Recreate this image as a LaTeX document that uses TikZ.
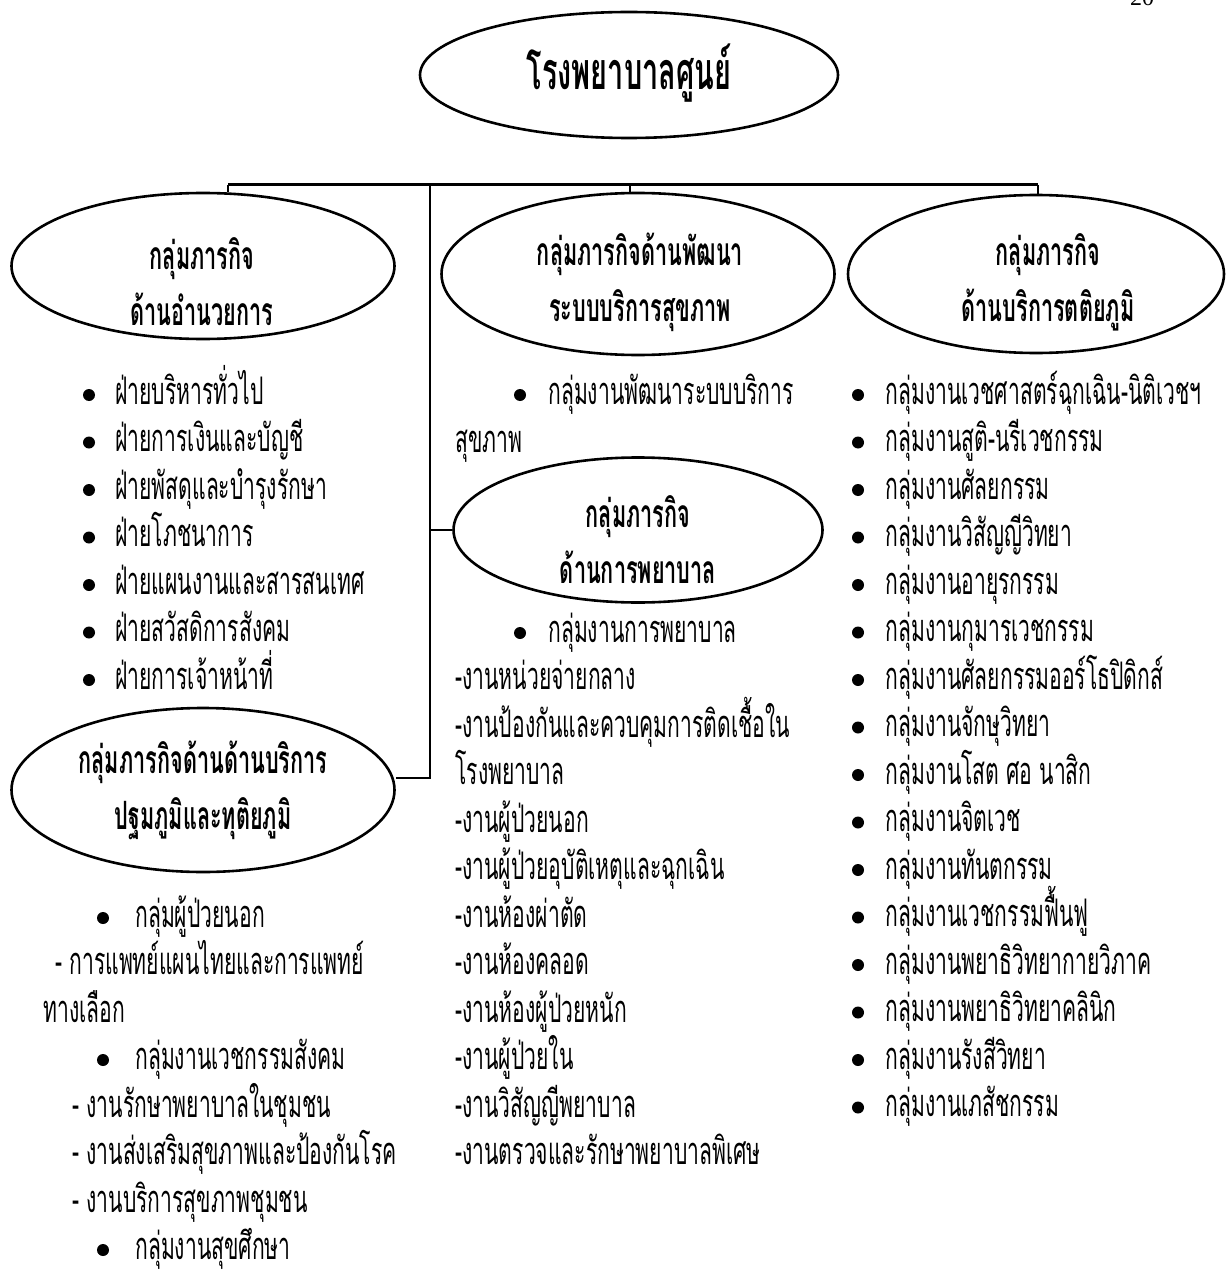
\documentclass[tikz,border=0pt]{standalone}
\usepackage{fontspec}
\setmainfont{Liberation Serif}
\newfontfamily\thai[Script=Thai,FakeStretch=0.555]{Loma}
\usetikzlibrary{shapes.geometric}

% body text and title sizes
\newcommand{\itemsize}{\fontsize{19pt}{24pt}\selectfont}
\newcommand{\headsize}{\fontsize{19.5pt}{24pt}\selectfont\bfseries}
\newcommand{\topsize}{\fontsize{26pt}{30pt}\selectfont\bfseries}

\tikzset{
  unit ellipse/.style={ellipse, draw, line width=1.3pt, inner sep=0pt},
  head/.style={font=\thai\headsize, align=center, inner sep=0pt},
  entry/.style={font=\thai\itemsize, anchor=base west, inner sep=0pt},
  link/.style={line width=1pt},
  bar/.style={line width=1.5pt},
  dot/.style={fill=black}
}

\begin{document}
\begin{tikzpicture}[x=0.5pt,y=-0.5pt]
\useasboundingbox (0,0) rectangle (1225,1273);

% page number at the top right corner
\node[anchor=base, font=\fontsize{12pt}{14pt}\selectfont, inner sep=0pt] (pg) at (1142,6) {20};

% top unit (sizes in pt: half of the pixel grid)
\node[unit ellipse, minimum width=209pt, minimum height=63pt] (e0) at (629,75) {};
\node[font=\thai\topsize, inner sep=0pt] (e0t) at (629,73) {โรงพยาบาลศูนย์};

% mission groups
\node[unit ellipse, minimum width=191.5pt, minimum height=73pt] (e1) at (203,266) {};
\node[head] (e1t) at (202,282) {กลุ่มภารกิจ\\[4pt]ด้านอำนวยการ};

\node[unit ellipse, minimum width=196.5pt, minimum height=81pt] (e2) at (638,274) {};
\node[head] (e2t) at (640,282) {กลุ่มภารกิจด้านพัฒนา\\[4pt]ระบบบริการสุขภาพ};

\node[unit ellipse, minimum width=188pt, minimum height=79pt] (e3) at (1036,274) {};
\node[head] (e3t) at (1048,282) {กลุ่มภารกิจ\\[4pt]ด้านบริการตติยภูมิ};

\node[unit ellipse, minimum width=184.5pt, minimum height=72.5pt] (e5) at (638,530) {};
\node[head] (e5t) at (638,540) {กลุ่มภารกิจ\\[4pt]ด้านการพยาบาล};

\node[unit ellipse, minimum width=191.5pt, minimum height=82pt] (e4) at (203,790) {};
\node[head] (e4t) at (203,790) {กลุ่มภารกิจด้านด้านบริการ\\[4pt]ปฐมภูมิและทุติยภูมิ};

% connectors
\coordinate (bl) at (228,185);
\coordinate (br) at (1038,185);
\coordinate (t0) at (430,185);
\coordinate (t1) at (430,530);
\coordinate (t2) at (430,778);
\coordinate (tm) at (630,185);
\draw[bar] (bl) -- (br);
\draw[link] (bl) -- (bl |- e1.north);
\draw[link] (tm) -- (tm |- e2.north);
\draw[link] (br) -- (br |- e3.north);
\draw[link] (t0) -- (t2) -- (t2 -| e4.east);
\draw[link] (t1) -- (e5.west);

% administration list
\foreach \txt [count=\i from 0] in {ฝ่ายบริหารทั่วไป, ฝ่ายการเงินและบัญชี, ฝ่ายพัสดุและบำรุงรักษา, ฝ่ายโภชนาการ, ฝ่ายแผนงานและสารสนเทศ, ฝ่ายสวัสดิการสังคม, ฝ่ายการเจ้าหน้าที่}{
  \pgfmathsetmacro{\yy}{395+47.5*\i}
  \fill[dot] (89,\yy) circle (6);
  \node[entry] (a\i) at (115,\yy+9) {\txt};
}

% health system development list
\fill[dot] (520,395) circle (6);
\node[entry] (d0) at (548,404) {กลุ่มงานพัฒนาระบบบริการ};
\node[entry] (d1) at (455,452) {สุขภาพ};

% nursing list
\fill[dot] (520,633) circle (6);
\node[entry] (n0) at (548,642) {กลุ่มงานการพยาบาล};
\foreach \txt [count=\i from 1] in {-งานหน่วยจ่ายกลาง, -งานป้องกันและควบคุมการติดเชื้อใน, โรงพยาบาล, -งานผู้ป่วยนอก, -งานผู้ป่วยอุบัติเหตุและฉุกเฉิน, -งานห้องผ่าตัด, -งานห้องคลอด, -งานห้องผู้ป่วยหนัก, -งานผู้ป่วยใน, -งานวิสัญญีพยาบาล, -งานตรวจและรักษาพยาบาลพิเศษ}{
  \pgfmathsetmacro{\yy}{633+47.5*\i}
  \node[entry] (n\i) at (455,\yy+9) {\txt};
}

% tertiary services list
\foreach \txt [count=\i from 0] in {กลุ่มงานเวชศาสตร์ฉุกเฉิน-นิติเวชฯ, กลุ่มงานสูติ-นรีเวชกรรม, กลุ่มงานศัลยกรรม, กลุ่มงานวิสัญญีวิทยา, กลุ่มงานอายุรกรรม, กลุ่มงานกุมารเวชกรรม, กลุ่มงานศัลยกรรมออร์โธปิดิกส์, กลุ่มงานจักษุวิทยา, กลุ่มงานโสต ศอ นาสิก, กลุ่มงานจิตเวช, กลุ่มงานทันตกรรม, กลุ่มงานเวชกรรมฟื้นฟู, กลุ่มงานพยาธิวิทยากายวิภาค, กลุ่มงานพยาธิวิทยาคลินิก, กลุ่มงานรังสีวิทยา, กลุ่มงานเภสัชกรรม}{
  \pgfmathsetmacro{\yy}{395+47.5*\i}
  \fill[dot] (858,\yy) circle (6);
  \node[entry] (t\i) at (885,\yy+9) {\txt};
}

% primary and secondary services list
\fill[dot] (103,918) circle (6);
\node[entry] (p0) at (135,927) {กลุ่มผู้ป่วยนอก};
\node[entry] (p1) at (55,974) {- การแพทย์แผนไทยและการแพทย์};
\node[entry] (p2) at (43,1022) {ทางเลือก};
\fill[dot] (103,1060) circle (6);
\node[entry] (p3) at (135,1069) {กลุ่มงานเวชกรรมสังคม};
\node[entry] (p4) at (72,1117) {- งานรักษาพยาบาลในชุมชน};
\node[entry] (p5) at (72,1164) {- งานส่งเสริมสุขภาพและป้องกันโรค};
\node[entry] (p6) at (72,1212) {- งานบริการสุขภาพชุมชน};
\fill[dot] (103,1250) circle (6);
\node[entry] (p7) at (135,1259) {กลุ่มงานสุขศึกษา};
\end{tikzpicture}
\end{document}
